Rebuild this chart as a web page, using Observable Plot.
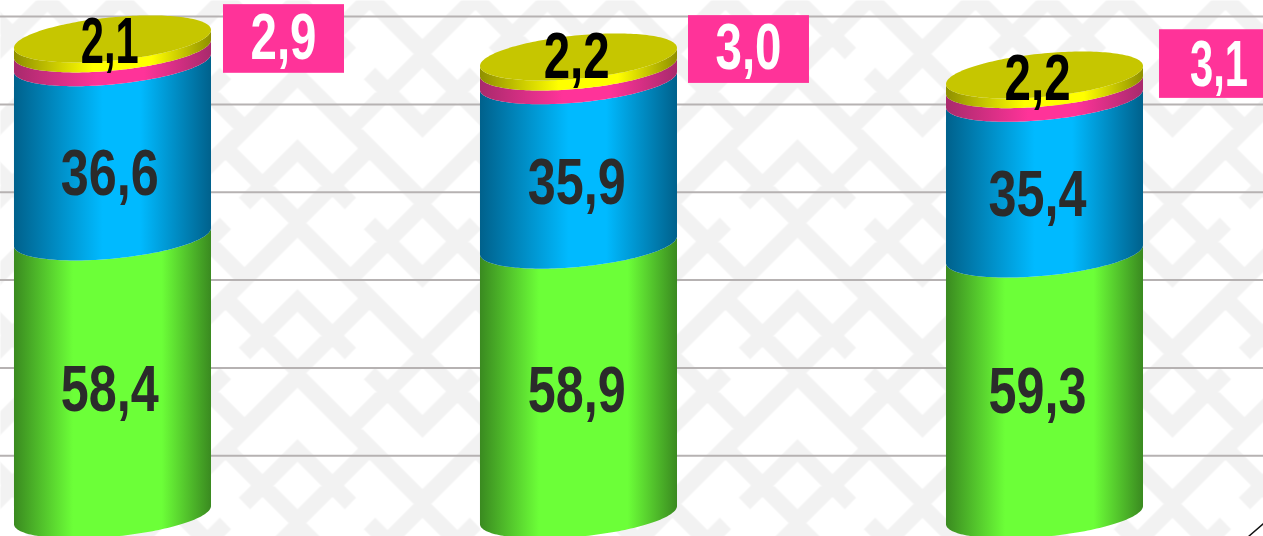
<!DOCTYPE html>
<html>
<head>
<meta charset="utf-8">
<style>html,body{margin:0;padding:0;background:#fff;overflow:hidden}svg{display:block}</style>
<script src="https://cdn.jsdelivr.net/npm/d3@7"></script>
<script src="https://cdn.jsdelivr.net/npm/@observablehq/plot@0.6"></script>
</head>
<body>
<div id="chart"></div>
<script>
// Shares (%) per bar, bottom to top
const green  = [58.4, 58.9, 59.3];
const blue   = [36.6, 35.9, 35.4];
const pink   = [2.9, 3.0, 3.1];
const yellow = [2.1, 2.2, 2.2];
// Height of each whole column on the y scale
const totals = [108.2, 104.1, 100];
const gridValues = [13.6, 33.55, 53.5, 73.45, 93.4, 113.4];

// Label positions on the scales
const greenLabelY  = [28.4, 28.2, 28.0];
const blueLabelY   = [77.5, 75.5, 72.7];
const yellowLabelY = [107.5, 104.1, 99.1];
const labelX = [-0.007, -0.005, -0.016];
const boxX1 = [0.2371, 0.2350, 0.2457];
const boxX2 = [0.4968, 0.4946, 0.5100];
const boxY1 = [100.5, 98.2, 94.8];
const boxY2 = [116.1, 113.6, 110.4];
const boxLabelX = [0.3659, 0.3637, 0.3735];
const boxLabelY = [108.4, 106.1, 102.3];

const fmt = v => v.toFixed(1).replace(".", ",");
const bars = [0, 1, 2];
const halfW = 0.2114, depth = 4.93, skew = 2.05;
const layers = [
  {name: "green", values: green},
  {name: "blue", values: blue},
  {name: "pink", values: pink},
  {name: "yellow", values: yellow}
];

// Cylinder bands: each spans the front arcs of two stack boundaries
const arcSteps = d3.range(0, 91).map(i => i / 90 * Math.PI);
const bands = [];
const tops = [];
for (const b of bars) {
  let base = 0;
  const scale = totals[b] / 100;
  for (const l of layers) {
    const next = base + l.values[b] * scale;
    for (const t of arcSteps) {
      const c = Math.cos(t), s = Math.sin(t);
      bands.push({bar: b, layer: l.name, x: b + halfW * c,
        y1: base + skew * c - depth * s,
        y2: next + skew * c - depth * s});
    }
    base = next;
  }
  for (const t of arcSteps) {
    const c = Math.cos(t), s = Math.sin(t);
    tops.push({bar: b, x: b + halfW * c,
      y1: base + skew * c - depth * s,
      y2: base + skew * c + depth * s});
  }
}

// Gradients and the background tile
function defsMark() {
  const g = d3.create("svg:g");
  const defs = g.append("defs");
  const ramps = {
    green:  ["#3a8a20", "#6cff38", 0.30, 0.75],
    blue:   ["#00618c", "#00baff", 0.45, 0.64],
    pink:   ["#a82a6c", "#ff3399", 0.42, 0.66],
    yellow: ["#8f8f00", "#ffff00", 0.40, 0.70]
  };
  for (const [id, [edge, mid, a, b]] of Object.entries(ramps)) {
    const lg = defs.append("linearGradient").attr("id", "grad-" + id)
      .attr("x1", 0).attr("x2", 1).attr("y1", 0).attr("y2", 0);
    [[0, edge], [a, mid], [b, mid], [1, edge]].forEach(([o, c]) =>
      lg.append("stop").attr("offset", o).attr("stop-color", c));
  }
  const pat = defs.append("pattern").attr("id", "tile")
    .attr("patternUnits", "userSpaceOnUse")
    .attr("width", 250).attr("height", 150)
    .attr("patternTransform", "translate(47,63)");
  pat.append("rect").attr("width", 250).attr("height", 150).attr("fill", "#fff");
  const paths = [];
  const lambda = [[[-125, 137], [0, 12], [125, 137]],
                  [[-53, 140], [0, 87], [53, 140]],
                  [[-72, 85], [0, 157], [72, 85]]];
  for (const ox of [-250, 0, 250, 500]) for (const oy of [-150, 0, 150, 300]) {
    for (const poly of lambda) {
      paths.push("M" + poly.map(([u, v]) => (u + ox) + "," + (v + oy)).join("L"));
      paths.push("M" + poly.map(([u, v]) => (u + ox + 125) + "," + (150 - v + oy)).join("L"));
    }
  }
  pat.append("path").attr("d", paths.join("")).attr("fill", "none")
    .attr("stroke", "#f2f2f2").attr("stroke-width", 16).attr("stroke-linejoin", "miter");
  return g.node();
}

const font = {fontFamily: "'Liberation Sans',sans-serif", fontWeight: 700, fontSize: 64};

const chart = Plot.plot({
  width: 1263, height: 536,
  marginTop: 0, marginRight: 0, marginBottom: 0, marginLeft: 0,
  x: {domain: [-0.2414, 2.4689], range: [0, 1263], axis: null},
  y: {domain: [-4.773, 117.045], range: [536, 0], axis: null},
  marks: [
    defsMark,
    Plot.frame({fill: "url(#tile)", stroke: "none"}),
    Plot.ruleY(gridValues, {stroke: "#b6b2b2", strokeWidth: 2}),
    ...layers.flatMap(l => bars.map(b => Plot.areaY(
      bands.filter(d => d.bar === b && d.layer === l.name),
      {x: "x", y1: "y1", y2: "y2", fill: "url(#grad-" + l.name + ")"}))),
    Plot.areaY(tops, {x: "x", y1: "y1", y2: "y2", z: "bar", fill: "#c6c600"}),
    Plot.rect(bars, {x1: b => b + boxX1[b], x2: b => b + boxX2[b], y1: b => boxY1[b], y2: b => boxY2[b], fill: "#ff3399"}),
    Plot.text(bars, {x: b => b + labelX[b], y: b => greenLabelY[b], text: b => fmt(green[b]), fill: "#2b2b2b", ...font}),
    Plot.text(bars, {x: b => b + labelX[b], y: b => blueLabelY[b], text: b => fmt(blue[b]), fill: "#2b2b2b", ...font}),
    Plot.text(bars, {x: b => b + labelX[b], y: b => yellowLabelY[b], text: b => fmt(yellow[b]), fill: "#000", ...font}),
    Plot.text(bars, {x: b => b + boxLabelX[b], y: b => boxLabelY[b], text: b => fmt(pink[b]), fill: "#fff", ...font}),
    Plot.line([[2.4367, -4.77], [2.469, -1.8]], {stroke: "#111", strokeWidth: 1.5})
  ]
});
document.getElementById("chart").append(chart);

// The reference's type is condensed: narrow the glyphs to the widths read from it
const labelWidth = s => s.length === 4 ? 98 : s.endsWith("1") ? 58 : 66;
chart.querySelectorAll("text").forEach(t => {
  const k = labelWidth(t.textContent) / t.getComputedTextLength();
  const base = t.getAttribute("transform") || "";
  t.setAttribute("transform", base + " scale(" + k + ",1)");
});
</script>
</body>
</html>
